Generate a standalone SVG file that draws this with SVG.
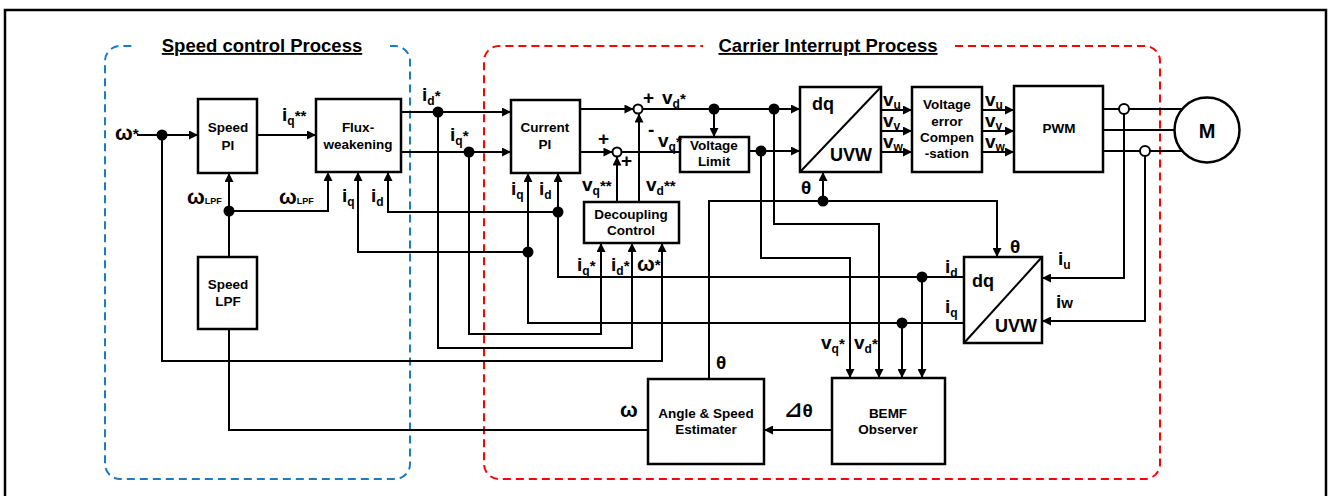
<svg xmlns="http://www.w3.org/2000/svg" width="1330" height="496" viewBox="0 0 1330 496">
<style>
text{font-family:"Liberation Sans",Arial,"DejaVu Sans",sans-serif;font-weight:bold;fill:#000}
.t{font-size:13.5px;text-anchor:middle}
.big{font-size:18px}
.lb{font-size:19px}
.om{font-size:21px}
.sub{font-size:12px}
.st{font-size:15px}
.ttl{font-size:18.5px;text-decoration:underline;text-anchor:middle}
.box{fill:#fff;stroke:#000;stroke-width:2.5}
.ln{fill:none;stroke:#000;stroke-width:2}
.ar{fill:none;stroke:#000;stroke-width:2;marker-end:url(#ah)}
.dot{fill:#000}
.hc{fill:#fff;stroke:#000;stroke-width:2}
</style>
<defs>
<marker id="ah" viewBox="0 0 10 10" refX="10" refY="5" markerWidth="10" markerHeight="9" markerUnits="userSpaceOnUse" orient="auto">
<path d="M0,0 L10,5 L0,10 z" fill="#000"/>
</marker>
</defs>
<rect width="1330" height="496" fill="#fff"/>
<path d="M5 500 V10 H1326 V500" fill="none" stroke="#000" stroke-width="2.5"/>

<g id="speed-process">
<path d="M390 46 H395 A15 15 0 0 1 410 61 V464 A15 15 0 0 1 395 479 H120 A15 15 0 0 1 105 464 V61 A15 15 0 0 1 120 46 H135" fill="none" stroke="#1a7cc4" stroke-width="2" stroke-dasharray="8 5"/>
<text class="ttl" x="262" y="52">Speed control Process</text>
</g>
<g id="carrier-process">
<path d="M955 46 H1145 A15 15 0 0 1 1160 61 V464 A15 15 0 0 1 1145 479 H499 A15 15 0 0 1 484 464 V61 A15 15 0 0 1 499 46 H703" fill="none" stroke="#ff0000" stroke-width="2" stroke-dasharray="8 5"/>
<text class="ttl" x="828" y="52">Carrier Interrupt Process</text>
</g>

<g id="connectors">
<path class="ar" d="M137 135 H198"/>
<path class="ar" d="M162 135 V361 H662 V243"/>
<path class="ar" d="M257 135 H316"/>
<path class="ar" d="M229 257 V173"/>
<path class="ar" d="M229 211 H328 V172"/>
<path class="ln" d="M229 329 V430 H648"/>
<path class="ar" d="M401 112 H511"/>
<path class="ar" d="M438 112 V348 H632 V243"/>
<path class="ar" d="M401 152 H511"/>
<path class="ar" d="M469 152 V334 H601 V243"/>
<path class="ar" d="M580 109 H633.5"/>
<path class="ar" d="M642.5 109 H800"/>
<path class="ar" d="M714 109 V137"/>
<path class="ar" d="M580 152 H612.5"/>
<path class="ln" d="M621.5 152 H680"/>
<path class="ar" d="M749 151 H800"/>
<path class="ar" d="M617 202 V156.5"/>
<path class="ar" d="M639 202 V113.5"/>
<path class="ar" d="M964 323 H528 V173"/>
<path class="ar" d="M528 252 H358 V172"/>
<path class="ar" d="M964 277 H558 V173"/>
<path class="ar" d="M558 212 H388 V172"/>
<path class="ar" d="M922 277 V378"/>
<path class="ar" d="M902 323 V378"/>
<path class="ar" d="M774 109 V224 H879 V378"/>
<path class="ar" d="M761 151 V258 H850 V378"/>
<path class="ar" d="M709 379 V201 H997 V257"/>
<path class="ar" d="M823 201 V172"/>
<path class="ar" d="M881 110 H912"/>
<path class="ar" d="M881 131 H912"/>
<path class="ar" d="M881 152 H912"/>
<path class="ar" d="M982 110 H1014"/>
<path class="ar" d="M982 131 H1014"/>
<path class="ar" d="M982 152 H1014"/>
<path class="ln" d="M1103 109 H1182"/>
<path class="ln" d="M1103 130 H1175"/>
<path class="ln" d="M1103 151 H1182"/>
<path class="ar" d="M1124 114 V278 H1042"/>
<path class="ar" d="M1145 156 V321 H1042"/>
<path class="ar" d="M832 430 H764"/>
<circle class="dot" cx="162" cy="135" r="5.5"/>
<circle class="dot" cx="229" cy="211" r="5.5"/>
<circle class="dot" cx="438" cy="112" r="5.5"/>
<circle class="dot" cx="469" cy="152" r="5.5"/>
<circle class="dot" cx="528" cy="252" r="5.5"/>
<circle class="dot" cx="558" cy="212" r="5.5"/>
<circle class="dot" cx="714" cy="109" r="5.5"/>
<circle class="dot" cx="774" cy="109" r="5.5"/>
<circle class="dot" cx="761" cy="151" r="5.5"/>
<circle class="dot" cx="823" cy="201" r="5.5"/>
<circle class="dot" cx="922" cy="277" r="5.5"/>
<circle class="dot" cx="902" cy="323" r="5.5"/>
<circle class="hc" cx="638" cy="109" r="4.5"/>
<circle class="hc" cx="617" cy="152" r="4.5"/>
<circle class="hc" cx="1124" cy="109" r="5"/>
<circle class="hc" cx="1145" cy="151" r="5"/>
</g>

<g id="speed-pi"><rect class="box" x="198" y="99" width="59" height="74"/><text class="t" x="228" y="132">Speed</text><text class="t" x="228" y="150">PI</text></g>
<g id="flux-weakening"><rect class="box" x="316" y="99" width="85" height="73"/><text class="t" x="358" y="132">Flux-</text><text class="t" x="358" y="149">weakening</text></g>
<g id="speed-lpf"><rect class="box" x="198" y="257" width="59" height="72"/><text class="t" x="228" y="289">Speed</text><text class="t" x="228" y="306">LPF</text></g>
<g id="current-pi"><rect class="box" x="511" y="100" width="69" height="73"/><text class="t" x="545" y="132">Current</text><text class="t" x="545" y="149">PI</text></g>
<g id="voltage-limit"><rect class="box" x="680" y="137" width="69" height="35"/><text class="t" x="714" y="150">Voltage</text><text class="t" x="714" y="166">Limit</text></g>
<g id="decoupling"><rect class="box" x="584" y="202" width="95" height="41"/><text class="t" x="631" y="219">Decoupling</text><text class="t" x="631" y="235">Control</text></g>
<g id="dq-uvw"><rect class="box" x="800" y="87" width="81" height="85"/><path class="ln" d="M800 172 L881 87"/><text class="big" x="812" y="110">dq</text><text class="big" x="830" y="161">UVW</text></g>
<g id="voltage-error"><rect class="box" x="912" y="87" width="70" height="85"/><text class="t" x="947" y="109">Voltage</text><text class="t" x="947" y="126">error</text><text class="t" x="947" y="142">Compen</text><text class="t" x="947" y="158">-sation</text></g>
<g id="pwm"><rect class="box" x="1014" y="86" width="89" height="86"/><text class="t" x="1059" y="133">PWM</text></g>
<g id="motor"><circle class="box" cx="1207" cy="130" r="32.5"/><text x="1207" y="138" text-anchor="middle" font-size="20">M</text></g>
<g id="uvw-dq"><rect class="box" x="964" y="257" width="78" height="86"/><path class="ln" d="M964 343 L1042 257"/><text class="big" x="972" y="287">dq</text><text class="big" x="995" y="332">UVW</text></g>
<g id="bemf"><rect class="box" x="832" y="378" width="113" height="86"/><text class="t" x="888" y="418">BEMF</text><text class="t" x="888" y="434">Observer</text></g>
<g id="estimator"><rect class="box" x="648" y="379" width="116" height="85"/><text class="t" x="706" y="418">Angle &amp; Speed</text><text class="t" x="706" y="434">Estimater</text></g>

<g id="labels">
<text x="115" y="140"><tspan class="om">ω</tspan><tspan class="st" dy="-1">*</tspan></text>
<text class="lb" x="282" y="121">i<tspan class="sub" dy="4">q</tspan><tspan class="st" dy="-4">**</tspan></text>
<text x="187" y="204"><tspan class="om">ω</tspan><tspan font-size="9">LPF</tspan></text>
<text x="279" y="204"><tspan class="om">ω</tspan><tspan font-size="9">LPF</tspan></text>
<text class="lb" x="342" y="202">i<tspan class="sub" dy="4">q</tspan></text>
<text class="lb" x="371" y="202">i<tspan class="sub" dy="4">d</tspan></text>
<text class="lb" x="422" y="101">i<tspan class="sub" dy="4">d</tspan><tspan class="st" dy="-4">*</tspan></text>
<text class="lb" x="450" y="141">i<tspan class="sub" dy="4">q</tspan><tspan class="st" dy="-4">*</tspan></text>
<text class="lb" x="511" y="195">i<tspan class="sub" dy="4">q</tspan></text>
<text class="lb" x="539" y="195">i<tspan class="sub" dy="4">d</tspan></text>
<text class="lb" x="643" y="104">+</text>
<text class="lb" x="662" y="104">v<tspan class="sub" dy="4">d</tspan><tspan class="st" dy="-4">*</tspan></text>
<text class="lb" x="598" y="145">+</text>
<text class="lb" x="621" y="167">+</text>
<text class="lb" x="648" y="136">-</text>
<text class="lb" x="658" y="147">v<tspan class="sub" dy="4">q</tspan><tspan class="st" dy="-4">*</tspan></text>
<text class="lb" x="582" y="191">v<tspan class="sub" dy="4">q</tspan><tspan class="st" dy="-4">**</tspan></text>
<text class="lb" x="646" y="191">v<tspan class="sub" dy="4">d</tspan><tspan class="st" dy="-4">**</tspan></text>
<text class="lb" x="577" y="271">i<tspan class="sub" dy="4">q</tspan><tspan class="st" dy="-4">*</tspan></text>
<text class="lb" x="611" y="271">i<tspan class="sub" dy="4">d</tspan><tspan class="st" dy="-4">*</tspan></text>
<text x="637" y="271"><tspan class="om">ω</tspan><tspan class="st" dy="-1">*</tspan></text>
<text class="lb" x="801" y="194">θ</text>
<text class="lb" x="883" y="106">v<tspan class="sub" dy="3">u</tspan></text>
<text class="lb" x="883" y="127">v<tspan class="sub" dy="3">v</tspan></text>
<text class="lb" x="883" y="148">v<tspan class="sub" dy="3">w</tspan></text>
<text class="lb" x="985" y="106">v<tspan class="sub" dy="3">u</tspan></text>
<text class="lb" x="985" y="127">v<tspan class="sub" dy="3">v</tspan></text>
<text class="lb" x="985" y="148">v<tspan class="sub" dy="3">w</tspan></text>
<text class="lb" x="1010" y="253">θ</text>
<text class="lb" x="1058" y="265">i<tspan class="sub" dy="4">u</tspan></text>
<text class="lb" x="1056" y="308">i<tspan font-size="15">w</tspan></text>
<text class="lb" x="945" y="273">i<tspan class="sub" dy="4">d</tspan></text>
<text class="lb" x="945" y="313">i<tspan class="sub" dy="4">q</tspan></text>
<text class="lb" x="821" y="349">v<tspan class="sub" dy="4">q</tspan><tspan class="st" dy="-4">*</tspan></text>
<text class="lb" x="854" y="349">v<tspan class="sub" dy="4">d</tspan><tspan class="st" dy="-4">*</tspan></text>
<text class="lb" x="716" y="369">θ</text>
<text class="om" x="620" y="417">ω</text>
<text class="lb" x="784" y="417"><tspan font-size="22">⊿</tspan>θ</text>
</g>
</svg>
